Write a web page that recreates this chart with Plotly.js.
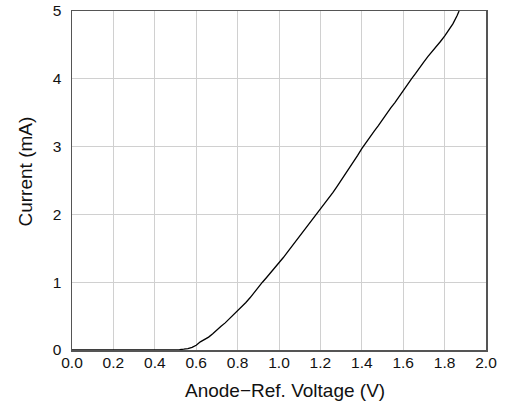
<!DOCTYPE html>
<html><head><meta charset="utf-8">
<script src="https://cdn.plot.ly/plotly-3.0.1.min.js"></script>
<style>html,body{margin:0;padding:0;background:#fff}#c{width:507px;height:408px}</style>
</head><body><div id="c"></div>
<script>
const voltage = [0.0,0.1,0.2,0.3,0.4,0.48,0.50,0.52,0.54,0.56,0.58,0.60,0.62,0.64,0.66,0.68,0.70,0.72,0.74,0.76,0.78,0.80,0.82,0.84,0.86,0.88,0.90,0.92,0.94,0.96,0.98,1.00,1.02,1.04,1.06,1.08,1.10,1.12,1.14,1.16,1.18,1.20,1.22,1.24,1.26,1.28,1.30,1.32,1.34,1.36,1.38,1.40,1.42,1.44,1.46,1.48,1.50,1.52,1.54,1.56,1.58,1.60,1.62,1.64,1.66,1.68,1.70,1.72,1.74,1.76,1.78,1.80,1.82,1.84,1.86,1.87];
const current = [0,0,0,0,0,0,0.002,0.006,0.012,0.02,0.04,0.07,0.12,0.15,0.19,0.24,0.30,0.35,0.40,0.46,0.51,0.565,0.63,0.70,0.77,0.85,0.92,1.00,1.07,1.14,1.21,1.28,1.36,1.44,1.52,1.60,1.68,1.76,1.84,1.92,1.99,2.07,2.15,2.24,2.32,2.41,2.50,2.59,2.69,2.78,2.87,2.97,3.06,3.14,3.23,3.31,3.40,3.48,3.57,3.65,3.74,3.82,3.91,4.00,4.08,4.17,4.25,4.33,4.40,4.48,4.55,4.63,4.72,4.81,4.93,5.0];
const xTicks = [0.0,0.2,0.4,0.6,0.8,1.0,1.2,1.4,1.6,1.8,2.0];
const xTickText = ["0.0","0.2","0.4","0.6","0.8","1.0","1.2","1.4","1.6","1.8","2.0"];
const yTicks = [0,1,2,3,4,5];
const xTitle = 'Anode\u2212Ref. Voltage (V)';
const yTitle = 'Current (mA)';

const font = {family:'"Liberation Sans", Arial, sans-serif', color:'#111'};
Plotly.newPlot('c', [{
  x: voltage, y: current, mode:'lines', type:'scatter',
  line:{color:'#000', width:1.3}, hoverinfo:'skip', cliponaxis:true
}], {
  width:507, height:408,
  margin:{l:72, r:21, t:11, b:58},
  paper_bgcolor:'#fff', plot_bgcolor:'#fff',
  showlegend:false,
  font: Object.assign({size:15.5}, font),
  xaxis:{
    range:[0,2], tickvals:xTicks, ticktext:xTickText,
    showgrid:true, gridcolor:'#d0d0d0', gridwidth:1,
    showline:true, linecolor:'#555', linewidth:1.5, mirror:true,
    ticks:'', ticklen:0, zeroline:false, fixedrange:true,
    ticklabelstandoff:-2,
    tickfont:Object.assign({size:15.5}, font)
  },
  yaxis:{
    range:[0,5], tickvals:yTicks,
    showgrid:true, gridcolor:'#d0d0d0', gridwidth:1,
    showline:true, linecolor:'#555', linewidth:1.5, mirror:true,
    ticks:'', ticklen:0, zeroline:false, fixedrange:true,
    ticklabelstandoff:6,
    tickfont:Object.assign({size:15.5}, font)
  },
  annotations:[
    {text:xTitle, xref:'paper', yref:'paper', x:0.5, y:0, xshift:6, yshift:-40,
     xanchor:'center', yanchor:'middle', showarrow:false, font:Object.assign({size:19}, font)},
    {text:yTitle, xref:'paper', yref:'paper', x:0, y:0.5, xshift:-47, yshift:9, textangle:-90,
     xanchor:'center', yanchor:'middle', showarrow:false, font:Object.assign({size:19}, font)}
  ]
}, {displayModeBar:false, staticPlot:true});
</script></body></html>
